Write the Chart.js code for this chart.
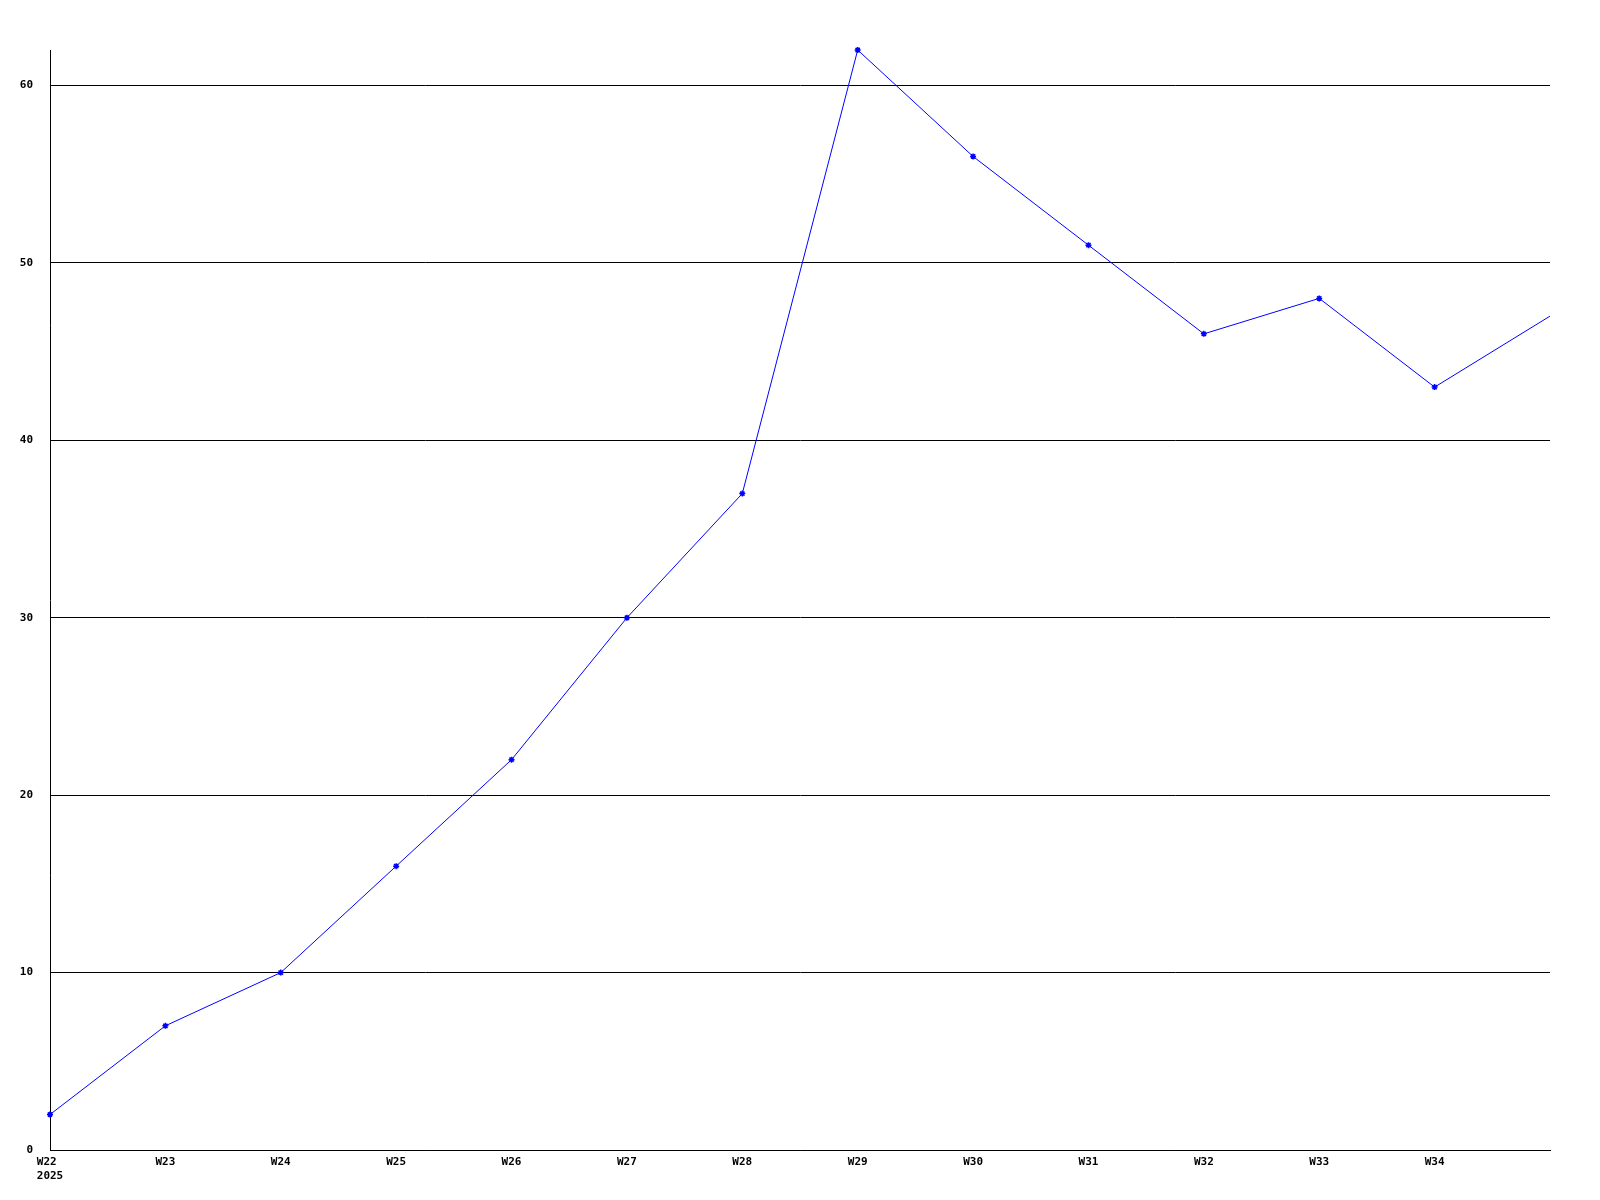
<!DOCTYPE html>
<html>
<head>
<meta charset="utf-8">
<script src="https://cdn.jsdelivr.net/npm/chart.js@4/dist/chart.umd.min.js"></script>
<style>
  html, body { margin: 0; padding: 0; background: #fff; }
  #wrap { width: 1600px; height: 1200px; }
</style>
</head>
<body>
<div id="wrap"><canvas id="weekChart"></canvas></div>
<script>
// Weekly counts, 2025
const weeks = ['W22', 'W23', 'W24', 'W25', 'W26', 'W27', 'W28', 'W29', 'W30', 'W31', 'W32', 'W33', 'W34', 'W35'];
const yearLabel = '2025';
const counts = [2, 7, 10, 16, 22, 30, 37, 62, 56, 51, 46, 48, 43, 47];
const yTicks = [0, 10, 20, 30, 40, 50, 60];

const tickFont = { family: '"DejaVu Sans Mono", "Liberation Mono", monospace', size: 11, weight: 'bold' };
const lastIdx = weeks.length - 1;

const ctx = document.getElementById('weekChart').getContext('2d');
new Chart(ctx, {
    type: 'line',
    data: {
        labels: weeks,
        datasets: [{
            data: counts,
            borderColor: '#0000ff',
            backgroundColor: '#0000ff',
            borderWidth: 1,
            tension: 0,
            clip: false,
            pointStyle: 'star',
            // the week at the right edge has no marker, the line just runs into it
            pointRadius: c => (c.dataIndex === lastIdx ? 0 : 3),
            pointBorderWidth: 1.5,
            pointHoverRadius: 3
        }]
    },
    options: {
        responsive: true,
        maintainAspectRatio: false,
        animation: false,
        layout: { padding: { top: 50, right: 50, bottom: 0, left: 0 } },
        plugins: {
            legend: { display: false },
            tooltip: { enabled: false }
        },
        scales: {
            x: {
                offset: false,
                grid: { display: false, drawTicks: false },
                border: { display: true, color: '#000', width: 1 },
                ticks: {
                    color: '#000',
                    font: tickFont,
                    padding: 6,
                    maxRotation: 0,
                    autoSkip: false,
                    callback: (v, i) => {
                        if (i === lastIdx) return '';
                        return i === 0 ? [weeks[i] + ' ', yearLabel] : weeks[i];
                    }
                },
                afterFit: s => { s.height = 50; }
            },
            y: {
                min: 0,
                max: Math.max(...counts),
                grid: { color: '#000', lineWidth: 1, drawTicks: false },
                border: { display: true, color: '#000', width: 1 },
                afterBuildTicks: s => { s.ticks = yTicks.map(v => ({ value: v })); },
                ticks: {
                    color: '#000',
                    font: tickFont,
                    padding: 17,
                    includeBounds: false
                },
                afterFit: s => { s.width = 50; }
            }
        }
    }
});
</script>
</body>
</html>
